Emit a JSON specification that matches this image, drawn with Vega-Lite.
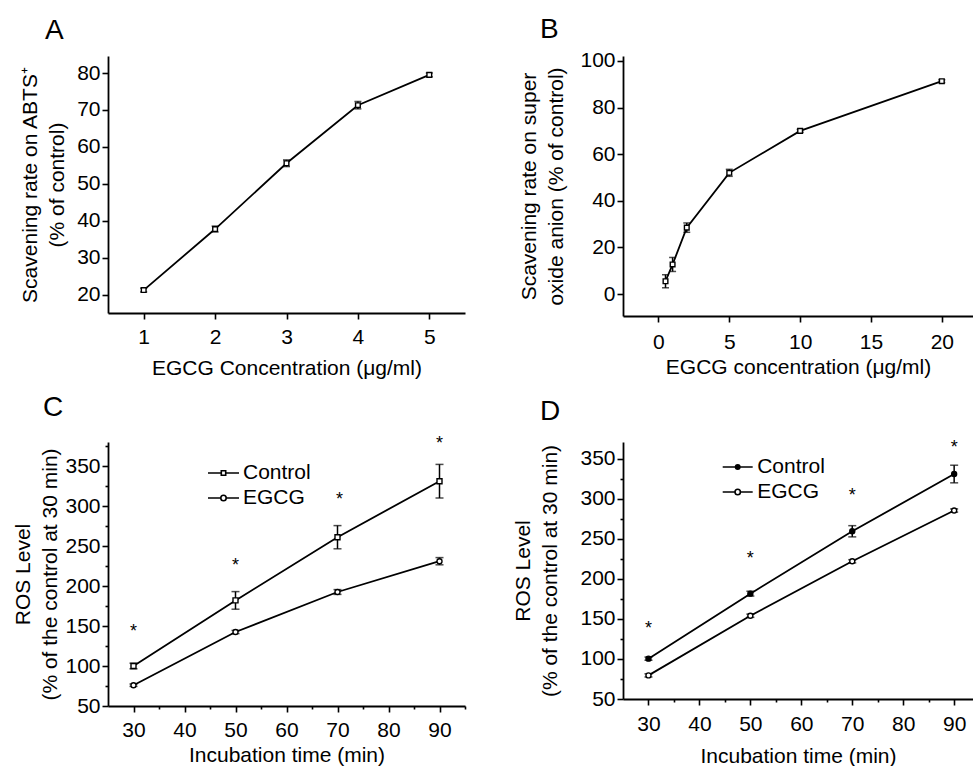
{
  "$schema": "https://vega.github.io/schema/vega-lite/v6.json",
  "padding": {"left": 12, "top": 15, "right": 0, "bottom": 0},
  "background": "white",
  "columns": 2,
  "bounds": "flush",
  "spacing": {"row": 126, "column": 158},
  "resolve": {"scale": {"shape": "independent", "fill": "independent"}, "legend": {"shape": "independent", "fill": "independent"}},
  "config": {
    "font": "Liberation Sans",
    "view": {"stroke": null},
    "axis": {"domainColor": "black", "domainWidth": 1.8, "tickColor": "black", "tickWidth": 1.6, "tickSize": 6, "labelFontSize": 21, "labelColor": "black", "titleFontSize": 21, "titleFontWeight": "normal", "titleColor": "black", "grid": false, "labelPadding": 3, "labelFlush": false, "titleLineHeight": 27},
    "title": {"fontSize": 28, "fontWeight": "normal", "anchor": "start", "frame": "group", "color": "black"},
    "text": {"font": "Liberation Sans"}
  },
  "datasets": {
    "abts": [
      {"conc": 1, "rate": 21.3, "err": 0.5},
      {"conc": 2, "rate": 37.8, "err": 0.8},
      {"conc": 3, "rate": 55.6, "err": 0.9},
      {"conc": 4, "rate": 71.3, "err": 1.0},
      {"conc": 5, "rate": 79.5, "err": 0.5}
    ],
    "superoxide": [
      {"conc": 0.5, "rate": 5.5, "err": 2.8},
      {"conc": 1, "rate": 12.7, "err": 3.0},
      {"conc": 2, "rate": 28.5, "err": 2.0},
      {"conc": 5, "rate": 52.0, "err": 1.5},
      {"conc": 10, "rate": 70.0, "err": 0.6},
      {"conc": 20, "rate": 91.3, "err": 0.6}
    ],
    "rosC": [
      {"t": 30, "group": "Control", "ros": 100, "err": 3.5},
      {"t": 50, "group": "Control", "ros": 182, "err": 11},
      {"t": 70, "group": "Control", "ros": 261, "err": 14.5},
      {"t": 90, "group": "Control", "ros": 331, "err": 21},
      {"t": 30, "group": "EGCG", "ros": 76, "err": 1.5},
      {"t": 50, "group": "EGCG", "ros": 142.5, "err": 2},
      {"t": 70, "group": "EGCG", "ros": 192.5, "err": 3},
      {"t": 90, "group": "EGCG", "ros": 231, "err": 4.5}
    ],
    "starsC": [
      {"t": 30, "y": 147.5},
      {"t": 50, "y": 230},
      {"t": 70.4, "y": 312},
      {"t": 90, "y": 382}
    ],
    "rosD": [
      {"t": 30, "group": "Control", "ros": 100.4, "err": 2},
      {"t": 50, "group": "Control", "ros": 181.6, "err": 3},
      {"t": 70, "group": "Control", "ros": 259.5, "err": 7},
      {"t": 90, "group": "Control", "ros": 331, "err": 11},
      {"t": 30, "group": "EGCG", "ros": 79.5, "err": 2},
      {"t": 50, "group": "EGCG", "ros": 154, "err": 2},
      {"t": 70, "group": "EGCG", "ros": 222, "err": 2},
      {"t": 90, "group": "EGCG", "ros": 285.4, "err": 2}
    ],
    "starsD": [
      {"t": 30, "y": 143},
      {"t": 50, "y": 229.5},
      {"t": 70, "y": 308},
      {"t": 90, "y": 368}
    ]
  },
  "concat": [
    {
      "width": 357, "height": 257,
      "title": {"text": "A", "dx": -63, "offset": 11},
      "data": {"name": "abts"},
      "resolve": {"axis": {"x": "independent", "y": "independent"}},
      "layer": [
        {
          "mark": {"type": "line", "color": "black", "strokeWidth": 1.8},
          "encoding": {
            "x": {"field": "conc", "type": "quantitative", "scale": {"domain": [0.5, 5.5], "nice": false, "zero": false},
                  "axis": {"values": [1, 2, 3, 4, 5], "title": "EGCG Concentration (μg/ml)", "titlePadding": 10, "labelPadding": 7}},
            "y": {"field": "rate", "type": "quantitative", "scale": {"domain": [15.1, 84.6], "nice": false, "zero": false},
                  "axis": {"values": [20, 30, 40, 50, 60, 70, 80], "title": ["Scavening rate on ABTS⁺", "(% of control)"], "titlePadding": 9, "labelPadding": 2}}
          }
        },
        {
          "mark": {"type": "errorbar", "ticks": {"size": 7}, "color": "black", "thickness": 1.5},
          "encoding": {
            "x": {"field": "conc", "type": "quantitative", "axis": null},
            "y": {"field": "rate", "type": "quantitative", "axis": null},
            "yError": {"field": "err"}
          }
        },
        {
          "mark": {"type": "point", "shape": "square", "size": 22, "fill": "white", "stroke": "black", "strokeWidth": 1.4, "opacity": 1},
          "encoding": {
            "x": {"field": "conc", "type": "quantitative", "axis": null},
            "y": {"field": "rate", "type": "quantitative", "axis": null}
          }
        }
      ]
    },
    {
      "width": 350, "height": 260,
      "title": {"text": "B", "dx": -83, "offset": 6},
      "data": {"name": "superoxide"},
      "resolve": {"axis": {"x": "independent", "y": "independent"}},
      "layer": [
        {
          "mark": {"type": "line", "color": "black", "strokeWidth": 1.8},
          "encoding": {
            "x": {"field": "conc", "type": "quantitative", "scale": {"domain": [-2.5, 22.2], "nice": false, "zero": false},
                  "axis": {"values": [0, 5, 10, 15, 20], "title": "EGCG concentration (μg/ml)", "titlePadding": 4, "labelPadding": 9}},
            "y": {"field": "rate", "type": "quantitative", "scale": {"domain": [-9.4, 102.1], "nice": false, "zero": false},
                  "axis": {"values": [0, 20, 40, 60, 80, 100], "title": ["Scavening rate on super", "oxide anion (% of control)"], "titlePadding": 13, "labelPadding": 2}}
          }
        },
        {
          "mark": {"type": "errorbar", "ticks": {"size": 7}, "color": "black", "thickness": 1.5},
          "encoding": {
            "x": {"field": "conc", "type": "quantitative", "axis": null},
            "y": {"field": "rate", "type": "quantitative", "axis": null},
            "yError": {"field": "err"}
          }
        },
        {
          "mark": {"type": "point", "shape": "square", "size": 22, "fill": "white", "stroke": "black", "strokeWidth": 1.4, "opacity": 1},
          "encoding": {
            "x": {"field": "conc", "type": "quantitative", "axis": null},
            "y": {"field": "rate", "type": "quantitative", "axis": null}
          }
        }
      ]
    },
    {
      "width": 357, "height": 264,
      "title": {"text": "C", "dx": -65, "offset": 13},
      "resolve": {"axis": {"x": "independent", "y": "independent"}, "scale": {"shape": "independent"}, "legend": {"shape": "independent"}},
      "layer": [
        {
          "data": {"name": "rosC"},
          "mark": {"type": "line", "color": "black", "strokeWidth": 1.8},
          "encoding": {
            "x": {"field": "t", "type": "quantitative", "scale": {"domain": [25, 95], "nice": false, "zero": false},
                  "axis": {"values": [30, 40, 50, 60, 70, 80, 90], "title": "Incubation time (min)", "titlePadding": 4, "labelPadding": 7}},
            "y": {"field": "ros", "type": "quantitative", "scale": {"domain": [50, 380], "nice": false, "zero": false},
                  "axis": {"values": [50, 100, 150, 200, 250, 300, 350], "title": ["ROS Level", "(% of the control at 30 min)"], "titlePadding": 4, "labelPadding": 2}},
            "detail": {"field": "group"}
          }
        },
        {
          "data": {"name": "rosC"},
          "mark": {"type": "errorbar", "ticks": {"size": 8}, "color": "black", "thickness": 1.5},
          "encoding": {
            "x": {"field": "t", "type": "quantitative", "axis": null},
            "y": {"field": "ros", "type": "quantitative", "axis": null},
            "yError": {"field": "err"},
            "detail": {"field": "group"}
          }
        },
        {
          "data": {"name": "rosC"},
          "mark": {"type": "point", "size": 25, "fill": "white", "stroke": "black", "strokeWidth": 1.4, "opacity": 1},
          "encoding": {
            "x": {"field": "t", "type": "quantitative",
                  "axis": {"values": [35, 45, 55, 65, 75, 85, 95], "labels": false, "domain": false, "tickSize": 3, "title": null, "orient": "bottom"}},
            "y": {"field": "ros", "type": "quantitative",
                  "axis": {"values": [75, 125, 175, 225, 275, 325, 375], "labels": false, "domain": false, "tickSize": 3, "title": null, "orient": "left"}},
            "shape": {"field": "group", "type": "nominal", "scale": {"domain": ["Control", "EGCG"], "range": ["square", "circle"]}, "legend": null}
          }
        },
        {
          "data": {"name": "rosC"},
          "mark": {"type": "point", "size": 25, "filled": false, "color": "black", "opacity": 0},
          "encoding": {
            "x": {"field": "t", "type": "quantitative", "axis": null},
            "y": {"field": "ros", "type": "quantitative", "axis": null},
            "shape": {"field": "group", "type": "nominal",
                      "scale": {"domain": ["Control", "EGCG"], "range": ["M-1.55,0H-0.22M0.22,0H1.55M-0.22,-0.22H0.22V0.22H-0.22Z", "M-1.55,0H-0.27M0.27,0H1.55M-0.27,0A0.27,0.27,0,1,0,0.27,0A0.27,0.27,0,1,0,-0.27,0Z"]},
                      "legend": {"orient": "none", "legendX": 104.5, "legendY": 20, "title": null, "labelFontSize": 21, "labelColor": "black", "symbolSize": 400, "labelOffset": 8.5, "rowPadding": 4, "padding": 0,
                                 "symbolOpacity": 1, "symbolFillColor": "white", "symbolStrokeColor": "black", "symbolStrokeWidth": 1.6}}
          }
        },
        {
          "data": {"name": "starsC"},
          "mark": {"type": "text", "text": "*", "fontSize": 18, "color": "black", "baseline": "middle", "dy": 4},
          "encoding": {
            "x": {"field": "t", "type": "quantitative", "axis": null},
            "y": {"field": "y", "type": "quantitative", "axis": null}
          }
        }
      ]
    },
    {
      "width": 350, "height": 257,
      "title": {"text": "D", "dx": -83, "offset": 13},
      "resolve": {"axis": {"x": "independent", "y": "independent"}, "scale": {"shape": "independent"}, "legend": {"shape": "independent"}},
      "layer": [
        {
          "data": {"name": "rosD"},
          "mark": {"type": "line", "color": "black", "strokeWidth": 1.8},
          "encoding": {
            "x": {"field": "t", "type": "quantitative", "scale": {"domain": [25, 93.7], "nice": false, "zero": false},
                  "axis": {"values": [30, 40, 50, 60, 70, 80, 90], "title": "Incubation time (min)", "titlePadding": 11, "labelPadding": 8}},
            "y": {"field": "ros", "type": "quantitative", "scale": {"domain": [50, 371], "nice": false, "zero": false},
                  "axis": {"values": [50, 100, 150, 200, 250, 300, 350], "title": ["ROS Level", "(% of the control at 30 min)"], "titlePadding": 19, "labelPadding": 2}},
            "detail": {"field": "group"}
          }
        },
        {
          "data": {"name": "rosD"},
          "mark": {"type": "errorbar", "ticks": {"size": 8}, "color": "black", "thickness": 1.5},
          "encoding": {
            "x": {"field": "t", "type": "quantitative", "axis": null},
            "y": {"field": "ros", "type": "quantitative", "axis": null},
            "yError": {"field": "err"},
            "detail": {"field": "group"}
          }
        },
        {
          "data": {"name": "rosD"},
          "mark": {"type": "point", "shape": "circle", "size": 25, "stroke": "black", "strokeWidth": 1.4, "opacity": 1},
          "encoding": {
            "x": {"field": "t", "type": "quantitative",
                  "axis": {"values": [35, 45, 55, 65, 75, 85], "labels": false, "domain": false, "tickSize": 3, "title": null, "orient": "bottom"}},
            "y": {"field": "ros", "type": "quantitative",
                  "axis": {"values": [75, 125, 175, 225, 275, 325], "labels": false, "domain": false, "tickSize": 3, "title": null, "orient": "left"}},
            "fill": {"field": "group", "type": "nominal", "scale": {"domain": ["Control", "EGCG"], "range": ["black", "white"]}, "legend": null}
          }
        },
        {
          "data": {"name": "rosD"},
          "mark": {"type": "point", "size": 25, "filled": false, "color": "black", "opacity": 0},
          "encoding": {
            "x": {"field": "t", "type": "quantitative", "axis": null},
            "y": {"field": "ros", "type": "quantitative", "axis": null},
            "shape": {"field": "group", "type": "nominal",
                      "scale": {"domain": ["Control", "EGCG"], "range": ["M-1.5,0H1.5M-0.22,0A0.22,0.22,0,1,0,0.22,0A0.22,0.22,0,1,0,-0.22,0ZM-0.13,0A0.13,0.13,0,1,0,0.13,0A0.13,0.13,0,1,0,-0.13,0ZM-0.05,0A0.05,0.05,0,1,0,0.05,0A0.05,0.05,0,1,0,-0.05,0Z", "M-1.5,0H-0.27M0.27,0H1.5M-0.27,0A0.27,0.27,0,1,0,0.27,0A0.27,0.27,0,1,0,-0.27,0Z"]},
                      "legend": {"orient": "none", "legendX": 103.7, "legendY": 14, "title": null, "labelFontSize": 21, "labelColor": "black", "symbolSize": 400, "labelOffset": 8.5, "rowPadding": 4, "padding": 0,
                                 "symbolOpacity": 1, "symbolFillColor": "white", "symbolStrokeColor": "black", "symbolStrokeWidth": 1.6}}
          }
        },
        {
          "data": {"name": "starsD"},
          "mark": {"type": "text", "text": "*", "fontSize": 18, "color": "black", "baseline": "middle", "dy": 4},
          "encoding": {
            "x": {"field": "t", "type": "quantitative", "axis": null},
            "y": {"field": "y", "type": "quantitative", "axis": null}
          }
        }
      ]
    }
  ]
}
